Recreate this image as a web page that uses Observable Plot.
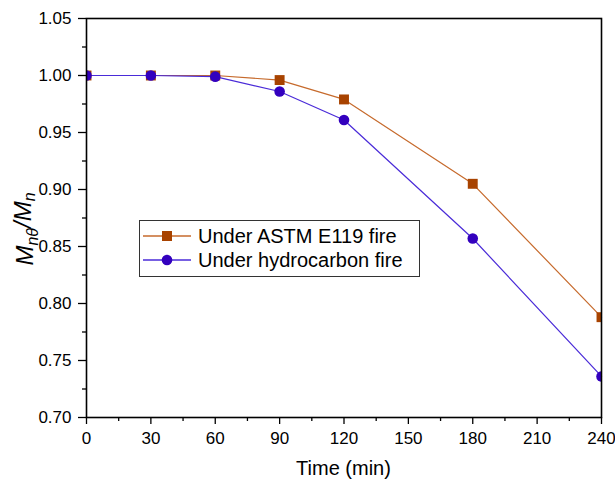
<!DOCTYPE html>
<html><head><meta charset="utf-8">
<script src="https://cdn.jsdelivr.net/npm/d3@7"></script>
<script src="https://cdn.jsdelivr.net/npm/@observablehq/plot@0.6"></script>
<style>body{margin:0;background:#fff}</style>
</head><body><div id="chart"></div>
<script>
const times = [0, 30, 60, 90, 120, 180, 240];
const astm = [1.000, 1.000, 1.000, 0.996, 0.979, 0.905, 0.788];
const hydro = [1.000, 1.000, 0.999, 0.986, 0.961, 0.857, 0.736];
const seriesNames = ["Under ASTM E119 fire", "Under hydrocarbon fire"];
const xTicks = [0, 30, 60, 90, 120, 150, 180, 210, 240];
const xMinor = [15, 45, 75, 105, 135, 165, 195, 225];
const yTicks = [0.70, 0.75, 0.80, 0.85, 0.90, 0.95, 1.00, 1.05];
const yMinor = [0.725, 0.775, 0.825, 0.875, 0.925, 0.975, 1.025];
const xLabel = "Time (min)";

const lineColors = ["#C66A2C", "#4A2BD8"];
const markColors = ["#A84300", "#3300BE"];
const symbols = ["square", "circle"];

const data = [];
times.forEach((t, i) => {
  data.push({t, v: astm[i], s: seriesNames[0]});
  data.push({t, v: hydro[i], s: seriesNames[1]});
});

const font = "Arial, 'Liberation Sans', sans-serif";

const plot = Plot.plot({
  width: 615,
  height: 479,
  marginLeft: 86,
  marginRight: 14,
  marginTop: 18,
  marginBottom: 62,
  style: {fontFamily: font, fontSize: "17px", background: "#fff", color: "#000"},
  x: {domain: [0, 240]},
  y: {domain: [0.70, 1.05]},
  marks: [
    Plot.axisX({ticks: xTicks, tickSize: 7, tickPadding: 7, label: null, fontSize: 17, strokeWidth: 1.3}),
    Plot.axisX({ticks: xMinor, tickSize: 4, tickFormat: () => "", label: null, strokeWidth: 1.3}),
    Plot.axisY({ticks: yTicks, tickSize: 8, tickPadding: 7, tickFormat: ".2f", label: null, fontSize: 17, strokeWidth: 1.3}),
    Plot.axisY({ticks: yMinor, tickSize: 4, tickFormat: () => "", label: null, strokeWidth: 1.3}),
    Plot.line(data.filter(d => d.s === seriesNames[0]), {x: "t", y: "v", stroke: lineColors[0], strokeWidth: 1.2}),
    Plot.line(data.filter(d => d.s === seriesNames[1]), {x: "t", y: "v", stroke: lineColors[1], strokeWidth: 1.2}),
    Plot.dot(data.filter(d => d.s === seriesNames[0]), {x: "t", y: "v", symbol: "square", r: 5.6, fill: markColors[0], stroke: "none", clip: "frame"}),
    Plot.dot(data.filter(d => d.s === seriesNames[1]), {x: "t", y: "v", symbol: "circle", r: 5.3, fill: markColors[1], stroke: "none", clip: "frame"}),
    Plot.frame({stroke: "#000", strokeWidth: 1.6})
  ]
});
document.getElementById("chart").appendChild(plot);

const svg = d3.select(plot);

// x-axis label
svg.append("text")
  .attr("x", (86 + 601) / 2).attr("y", 475)
  .attr("text-anchor", "middle")
  .attr("font-family", font).attr("font-size", 20).attr("fill", "#000")
  .text(xLabel);

// y-axis label: M_nθ / M_n
const yl = svg.append("text")
  .attr("transform", "translate(33,229) rotate(-90)")
  .attr("text-anchor", "middle")
  .attr("font-family", font).attr("font-size", 24).attr("font-style", "italic").attr("fill", "#000");
yl.append("tspan").text("M");
yl.append("tspan").attr("font-size", 16).attr("dy", "0.3em").text("nθ");
yl.append("tspan").attr("dy", "-0.3em").text("/M");
yl.append("tspan").attr("font-size", 16).attr("dy", "0.3em").text("n");

// legend
const lg = svg.append("g").attr("font-family", font).attr("font-size", 20).attr("text-anchor", "start");
lg.append("rect").attr("x", 139.5).attr("y", 220.5).attr("width", 280).attr("height", 56)
  .attr("fill", "#fff").attr("stroke", "#333").attr("stroke-width", 1);
seriesNames.forEach((name, i) => {
  const cy = 236 + i * 24;
  lg.append("line").attr("x1", 143).attr("x2", 191).attr("y1", cy).attr("y2", cy)
    .attr("stroke", lineColors[i]).attr("stroke-width", 1.4);
  if (symbols[i] === "square") {
    lg.append("rect").attr("x", 167 - 5).attr("y", cy - 5).attr("width", 10).attr("height", 10).attr("fill", markColors[i]);
  } else {
    lg.append("circle").attr("cx", 167).attr("cy", cy).attr("r", 5.3).attr("fill", markColors[i]);
  }
  lg.append("text").attr("x", 198).attr("y", cy).attr("dy", "0.35em").attr("text-anchor", "start").attr("fill", "#000").text(name);
});
</script>
</body></html>
